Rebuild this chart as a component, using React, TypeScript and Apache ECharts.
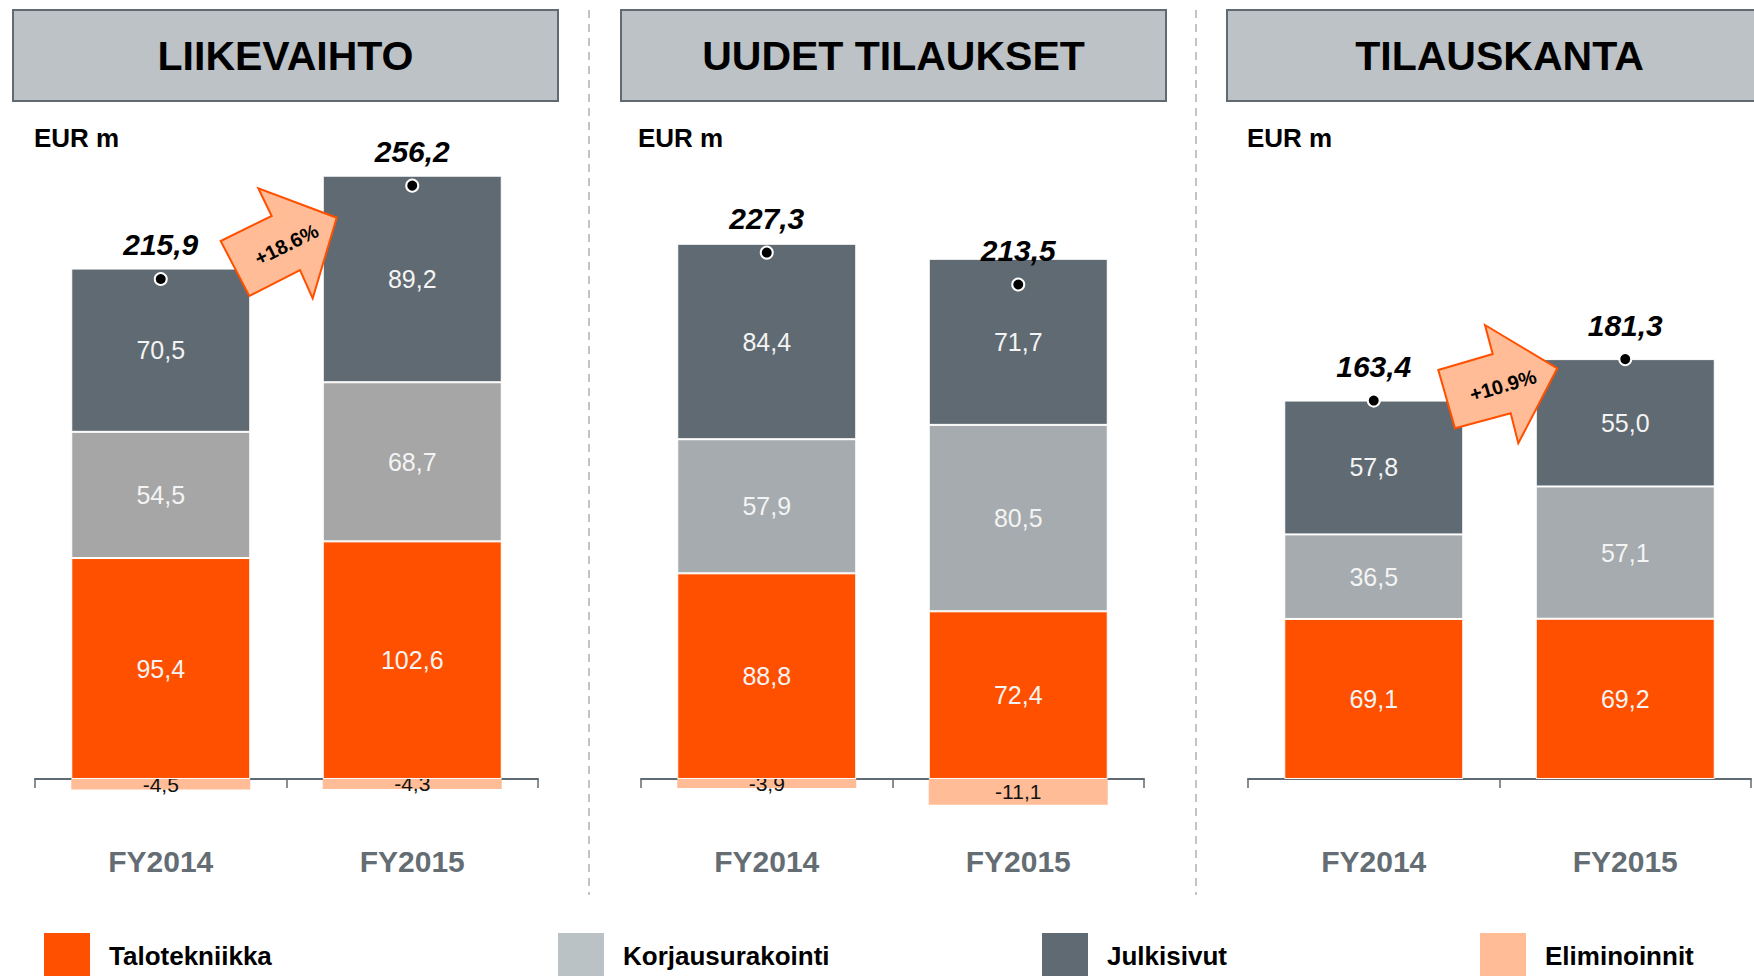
import React, { useEffect, useRef } from "react";
import * as echarts from "echarts";

const categories = ["FY2014", "FY2015"];
const panelTitles = ["LIIKEVAIHTO", "UUDET TILAUKSET", "TILAUSKANTA"];
const unitLabel = "EUR m";
const seriesNames = ["Talotekniikka", "Korjausurakointi", "Julkisivut", "Eliminoinnit"];

// per panel: [FY2014, FY2015]
const talotekniikka = [[95.4, 102.6], [88.8, 72.4], [69.1, 69.2]];
const korjausurakointi = [[54.5, 68.7], [57.9, 80.5], [36.5, 57.1]];
const julkisivut = [[70.5, 89.2], [84.4, 71.7], [57.8, 55.0]];
const eliminoinnit = [[-4.5, -4.3], [-3.9, -11.1], [null, null]];
const totals = [[215.9, 256.2], [227.3, 213.5], [163.4, 181.3]];
const growthLabels = ["+18.6%", "", "+10.9%"];

const FONT = '"Liberation Sans", Arial, Helvetica, sans-serif';
const ORANGE = "#ff5000";
const DARK = "#5f6a72";
const ELIM = "#ffbc96";
const korjausColors = ["#a6a6a6", "#a5abae", "#a5abae"];
const legendColors = [ORANGE, "#bbc2c5", DARK, ELIM];

const gridLefts = [35, 641, 1248];
const titleBoxLefts = [13, 621, 1227];
const unitLefts = [34, 638, 1247];
const separatorXs = [589, 1196];
const legendLefts = [44, 558, 1042, 1480];

const fmt = (v: number) => v.toFixed(1).replace(".", ",");

export default function App() {
  const ref = useRef<HTMLDivElement>(null);
  useEffect(() => {
    if (!ref.current) return;
    const chart = echarts.init(ref.current, undefined, { renderer: "svg" });

    const grids = gridLefts.map((l) => ({ left: l, width: 503, top: 84.2, height: 741.1 }));
    const xAxes = gridLefts.map((_, i) => ({
      type: "category",
      gridIndex: i,
      data: categories,
      axisLine: { onZero: true, lineStyle: { color: DARK, width: 2 } },
      axisTick: { show: true, length: 9, lineStyle: { color: DARK, width: 1.5 } },
      axisLabel: { margin: 21, fontSize: 30, fontWeight: "bold", color: "#646d73", fontFamily: FONT },
    }));
    const yAxes = gridLefts.map((_, i) => ({
      type: "value",
      gridIndex: i,
      min: -20,
      max: 300,
      show: false,
      splitLine: { show: false },
    }));

    const segLabel = {
      show: true,
      position: "inside",
      color: "#f4f4f4",
      fontSize: 25,
      fontFamily: FONT,
      formatter: (p: any) => fmt(p.value),
    };

    const series: any[] = [];
    for (let i = 0; i < 3; i++) {
      const common = {
        type: "bar",
        xAxisIndex: i,
        yAxisIndex: i,
        stack: "s" + i,
        barWidth: 179,
      };
      series.push({
        ...common,
        name: seriesNames[0],
        data: talotekniikka[i],
        itemStyle: { color: ORANGE, borderColor: "#fff", borderWidth: 1 },
        label: segLabel,
      });
      series.push({
        ...common,
        name: seriesNames[1],
        data: korjausurakointi[i],
        itemStyle: { color: korjausColors[i], borderColor: "#fff", borderWidth: 1 },
        label: segLabel,
      });
      series.push({
        ...common,
        name: seriesNames[2],
        data: julkisivut[i],
        itemStyle: { color: DARK, borderColor: "#fff", borderWidth: 1 },
        label: segLabel,
      });
      series.push({
        ...common,
        name: seriesNames[3],
        data: eliminoinnit[i],
        itemStyle: { color: ELIM },
        barWidth: 177,
        label: {
          show: true,
          position: "inside",
          color: "#111",
          fontSize: 21,
          fontFamily: FONT,
          formatter: (p: any) => (p.value == null ? "" : fmt(p.value)),
        },
        z: 1,
      });
      series.push({
        type: "scatter",
        name: "Yhteensä",
        xAxisIndex: i,
        yAxisIndex: i,
        data: totals[i],
        symbol: "circle",
        symbolSize: 12,
        itemStyle: { color: "#000", borderColor: "#fff", borderWidth: 2, opacity: 1 },
        label: {
          show: true,
          position: "top",
          distance: 12,
          color: "#000",
          fontSize: 30,
          fontWeight: "bold",
          fontStyle: "italic",
          fontFamily: FONT,
          formatter: (p: any) => fmt(p.value),
        },
        z: 5,
      });
    }

    const legends = seriesNames.map((n, k) => ({
      left: legendLefts[k],
      top: 933,
      padding: 0,
      orient: "horizontal",
      icon: "rect",
      itemWidth: 46,
      itemHeight: 46,
      selectedMode: false,
      data: [{ name: n, itemStyle: { color: legendColors[k], borderWidth: 0 } }],
      textStyle: {
        fontSize: 26,
        fontWeight: "bold",
        color: "#000",
        fontFamily: FONT,
        padding: [8, 0, 0, 14],
      },
    }));

    const graphics: any[] = [];
    titleBoxLefts.forEach((x, i) => {
      graphics.push({
        type: "rect",
        shape: { x, y: 10, width: 545, height: 91 },
        style: { fill: "#bcc2c5", stroke: DARK, lineWidth: 2 },
        z: 0,
      });
      graphics.push({
        type: "text",
        x: x + 272.5,
        y: 56,
        style: {
          text: panelTitles[i],
          font: `bold 41px ${FONT}`,
          fill: "#000",
          textAlign: "center",
          textVerticalAlign: "middle",
        },
        z: 1,
      });
      graphics.push({
        type: "text",
        x: unitLefts[i],
        y: 138,
        style: {
          text: unitLabel,
          font: `bold 26px ${FONT}`,
          fill: "#000",
          textAlign: "left",
          textVerticalAlign: "middle",
        },
      });
    });
    separatorXs.forEach((x) => {
      graphics.push({
        type: "line",
        shape: { x1: x, y1: 10, x2: x, y2: 895 },
        style: { stroke: "#c0c5c8", lineWidth: 2, lineDash: [8, 6] },
      });
    });
    // growth arrows
    graphics.push({
      type: "polygon",
      shape: {
        points: [
          [220.7, 241], [249.3, 296], [300, 270], [312.7, 298.3],
          [336.7, 217.7], [258.3, 188.3], [271.7, 216],
        ],
      },
      style: { fill: ELIM, stroke: ORANGE, lineWidth: 2 },
      z: 10,
    });
    graphics.push({
      type: "text",
      x: 286.5,
      y: 244.5,
      rotation: 0.46,
      style: {
        text: growthLabels[0],
        font: `bold 20px ${FONT}`,
        fill: "#000",
        textAlign: "center",
        textVerticalAlign: "middle",
      },
      z: 11,
    });
    graphics.push({
      type: "polygon",
      shape: {
        points: [
          [1438.3, 370], [1455, 428.3], [1510.7, 413.3], [1518.3, 443.3],
          [1557.3, 368.3], [1485, 325], [1492.7, 354],
        ],
      },
      style: { fill: ELIM, stroke: ORANGE, lineWidth: 2 },
      z: 10,
    });
    graphics.push({
      type: "text",
      x: 1503,
      y: 385.5,
      rotation: 0.286,
      style: {
        text: growthLabels[2],
        font: `bold 20px ${FONT}`,
        fill: "#000",
        textAlign: "center",
        textVerticalAlign: "middle",
      },
      z: 11,
    });

    chart.setOption({
      animation: false,
      backgroundColor: "#ffffff",
      textStyle: { fontFamily: FONT },
      grid: grids,
      xAxis: xAxes,
      yAxis: yAxes,
      legend: legends,
      series,
      graphic: { elements: graphics },
    });
    return () => chart.dispose();
  }, []);
  return (
    <div
      ref={ref}
      style={{ position: "absolute", left: 0, top: 0, width: 1754, height: 976 }}
    />
  );
}
